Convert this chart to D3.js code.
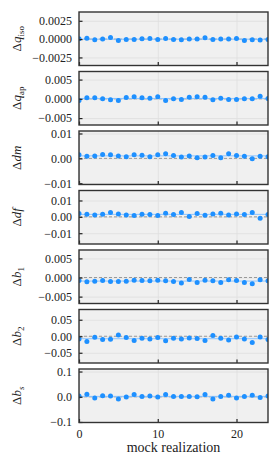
<!DOCTYPE html>
<html>
<head>
<meta charset="utf-8">
<script src="https://cdn.jsdelivr.net/npm/d3@7"></script>
<style>
body { margin: 0; background: #fff; }
svg text { font-family: "Liberation Serif", "Times New Roman", serif; fill: #222; }
</style>
</head>
<body>
<svg id="chart" width="280" height="467"></svg>
<script>
// mock realization index (x)
var mockIndex = [0,1,2,3,4,5,6,7,8,9,10,11,12,13,14,15,16,17,18,19,20,21,22,23,24];

// offsets per parameter
var dQiso = [0.00005,0.00011,-0.00009,0.00000,0.00022,-0.00018,-0.00005,-0.00004,0.00005,0.00010,-0.00004,0.00009,-0.00004,-0.00009,0.00000,0.00000,0.00018,-0.00004,0.00000,0.00000,0.00009,-0.00018,-0.00009,-0.00013,-0.00004];
var dQap  = [-0.00044,0.00026,0.00026,0.00000,-0.00026,-0.00044,0.00035,0.00053,0.00026,0.00018,0.00053,-0.00044,0.00000,-0.00018,0.00044,0.00053,0.00044,-0.00026,0.00018,-0.00018,-0.00018,0.00000,0.00000,0.00070,0.00009];
var dDm   = [0.00143,0.00086,0.00100,0.00157,0.00143,0.00100,0.00070,0.00143,0.00130,0.00070,0.00143,0.00186,0.00114,0.00057,0.00100,0.00029,0.00057,0.00114,0.00029,0.00186,0.00114,0.00086,-0.00014,0.00086,0.00070];
var dDf   = [0.0020,0.0016,0.0012,0.0016,0.0027,0.0018,0.0012,0.0008,0.0016,0.0014,0.0008,0.0022,0.0014,0.0027,0.0002,0.0020,0.0010,0.0018,0.0022,0.0012,0.0018,0.0014,0.0027,-0.0008,0.0014];
var dB1   = [-0.00077,-0.00112,-0.00095,-0.00077,-0.00103,-0.00103,-0.00095,-0.00069,-0.00077,-0.00086,-0.00069,-0.00086,-0.00103,-0.00146,-0.00052,-0.00129,-0.00069,-0.00086,-0.00129,-0.00060,-0.00077,-0.00129,-0.00163,-0.00060,-0.00086];
var dB2   = [-0.008,-0.016,-0.003,-0.010,-0.009,0.004,-0.004,-0.013,-0.006,-0.008,-0.004,-0.014,-0.006,-0.008,-0.005,-0.007,-0.013,0.002,-0.006,-0.011,-0.002,-0.008,-0.019,-0.002,-0.010];
var dBs   = [0.003,0.010,-0.005,0.004,0.003,-0.009,-0.001,0.009,0.001,0.003,-0.001,0.009,0.001,0.001,0.001,0.000,0.009,-0.009,0.001,0.006,-0.005,0.001,0.006,-0.003,0.003];

var series = [dQiso, dQap, dDm, dDf, dB1, dB2, dBs];

// axis limits, ticks and labels per panel
var yDomains = [[-0.0036,0.0037],[-0.0068,0.0071],[-0.0105,0.011],[-0.0166,0.0161],[-0.0068,0.0072],[-0.081,0.081],[-0.102,0.11]];
var yTicks = [[-0.0025,0,0.0025],[-0.005,0,0.005],[-0.01,0,0.01],[-0.01,0,0.01],[-0.005,0,0.005],[-0.05,0,0.05],[-0.1,0,0.1]];
var yFormats = [".4f",".3f",".2f",".2f",".3f",".2f",".1f"];
var labelMain = ["q","q","dm","df","b","b","b"];
var labelSub = ["iso","ap","","","1","2","s"];
var subItalic = [false,false,false,false,false,false,true];
var xTicks = [0,10,20];
var xDomain = [0,24];
var xLabel = "mock realization";

var left = 79, right = 268,
    top0 = 12, pitch = 59.5, ph = 53.5 ;

var svg = d3.select("#chart");

var x = d3.scaleLinear()
    .domain(xDomain)
    .range([0, right - left]) ;

var pw = right - left;

series.forEach(function(vals, p) {
    var top = top0 + p * pitch;
    var y = d3.scaleLinear()
        .domain(yDomains[p])
        .range([ph, 0]) ;

    var g = svg.append("g")
        .attr("transform", "translate(" + left + "," + top + ")") ;

    g.append("clipPath")
        .attr("id", "clip" + p)
        .append("rect")
        .attr("width", pw)
        .attr("height", ph) ;

    g.append("rect")
        .attr("width", pw)
        .attr("height", ph)
        .attr("fill", "#f0f0f0") ;

    // grid
    g.append("g")
        .call(d3.axisBottom(x).tickValues(xTicks).tickSize(ph).tickFormat(""))
        .call(function(a) { a.select(".domain").remove(); })
        .selectAll("line")
        .attr("stroke", "#dedede")
        .attr("stroke-width", 0.8) ;

    g.append("g")
        .call(d3.axisLeft(y).tickValues(yTicks[p]).tickSize(-pw).tickFormat(""))
        .call(function(a) { a.select(".domain").remove(); })
        .selectAll("line")
        .attr("stroke", "#dedede")
        .attr("stroke-width", 0.8) ;

    var plot = g.append("g")
        .attr("clip-path", "url(#clip" + p + ")") ;

    // zero line
    plot.append("line")
        .attr("x1", 0).attr("x2", pw)
        .attr("y1", y(0)).attr("y2", y(0))
        .attr("stroke", "#999")
        .attr("stroke-width", 1)
        .attr("stroke-dasharray", "3,2") ;

    // mean line
    var m = d3.mean(vals);
    plot.append("line")
        .attr("x1", 0).attr("x2", pw)
        .attr("y1", y(m)).attr("y2", y(m))
        .attr("stroke", "#8cc4ff")
        .attr("stroke-width", 1) ;

    plot.selectAll("circle")
        .data(vals)
        .enter().append("circle")
        .attr("cx", function(d, i) { return x(mockIndex[i]); })
        .attr("cy", function(d) { return y(d); })
        .attr("r", 2.5)
        .attr("fill", "#1e90ff") ;

    // y axis
    var ya = g.append("g")
        .call(d3.axisLeft(y).tickValues(yTicks[p]).tickSize(-3.5).tickPadding(7).tickFormat(d3.format(yFormats[p]))) ;
    ya.select(".domain").remove();
    ya.selectAll("line").attr("stroke", "#222").attr("stroke-width", 1.2);
    ya.attr("font-family", null).attr("font-size", null);
    ya.selectAll("text").style("font-size", "12px");

    // x axis
    var xa = g.append("g")
        .attr("transform", "translate(0," + ph + ")")
        .call(d3.axisBottom(x).tickValues(xTicks).tickSize(-3.5).tickPadding(7).tickFormat(p == series.length - 1 ? d3.format("d") : "")) ;
    xa.select(".domain").remove();
    xa.selectAll("line").attr("stroke", "#222").attr("stroke-width", 1.2);
    xa.attr("font-family", null).attr("font-size", null);
    xa.selectAll("text").style("font-size", "12px");

    // frame
    g.append("rect")
        .attr("width", pw)
        .attr("height", ph)
        .attr("fill", "none")
        .attr("stroke", "#333")
        .attr("stroke-width", 1.4) ;

    // y label
    var lab = svg.append("text")
        .attr("transform", "translate(21," + (top + ph / 2) + ") rotate(-90)")
        .attr("text-anchor", "middle")
        .style("font-size", "13px") ;
    lab.append("tspan").text("\u0394");
    lab.append("tspan").style("font-style", "italic").text(labelMain[p]);
    if (labelSub[p] != "") {
        lab.append("tspan")
            .attr("dy", 3)
            .style("font-size", "9px")
            .style("font-style", subItalic[p] ? "italic" : "normal")
            .text(labelSub[p]);
    }
});

svg.append("text")
    .attr("x", left + pw / 2)
    .attr("y", 452)
    .attr("text-anchor", "middle")
    .style("font-size", "14px")
    .text(xLabel) ;
</script>
</body>
</html>
